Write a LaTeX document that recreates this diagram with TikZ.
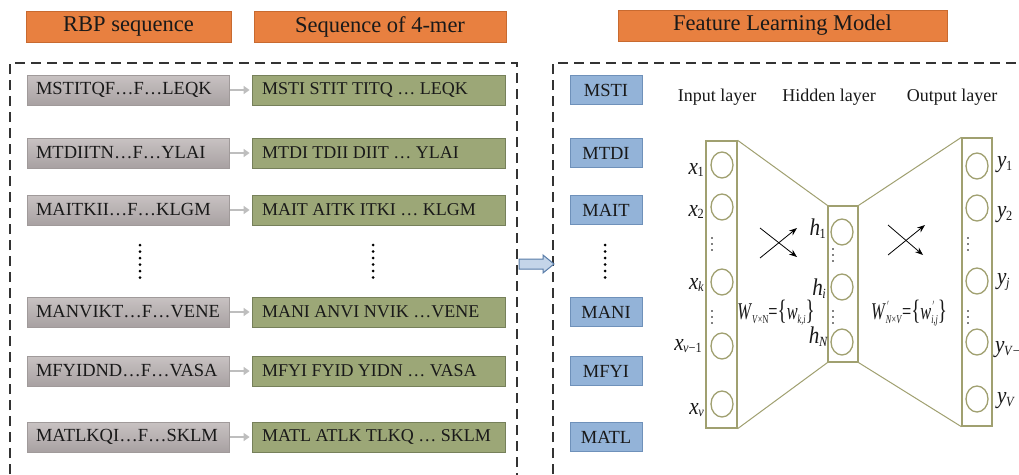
\documentclass[tikz,border=0pt]{standalone}
\usepackage{fontspec}
\setmainfont{Liberation Serif}
\usetikzlibrary{arrows.meta,shapes.geometric}
\definecolor{hdrfill}{RGB}{232,128,64}
\definecolor{hdrline}{RGB}{200,106,48}
\definecolor{greytop}{RGB}{200,194,194}
\definecolor{greybot}{RGB}{168,161,162}
\definecolor{greyline}{RGB}{160,154,154}
\definecolor{grnfill}{RGB}{156,167,119}
\definecolor{grnline}{RGB}{118,128,90}
\definecolor{bluefill}{RGB}{147,179,216}
\definecolor{blueline}{RGB}{111,145,186}
\definecolor{nncol}{RGB}{160,160,112}
\definecolor{txt}{RGB}{25,25,25}
\definecolor{sarrowcol}{RGB}{190,190,190}
\definecolor{barrowfill}{RGB}{196,213,233}
\definecolor{barrowline}{RGB}{88,124,168}
\newcommand\vl[2]{\scalebox{0.88}[1]{{\fontsize{24}{24}\selectfont\textit{#1}}\kern-0.5pt\raisebox{-0.6ex}{\fontsize{14}{14}\selectfont #2}}}
\newcommand\wsub[1]{\raisebox{-0.8ex}{\fontsize{12}{12}\selectfont #1}}
\newcommand\wsubsup[1]{\makebox[0pt][l]{\raisebox{2.2ex}{\fontsize{12}{12}\selectfont\kern2pt$'$}}\raisebox{-0.8ex}{\fontsize{12}{12}\selectfont #1}}
\newcommand\wbig[1]{{\fontsize{24}{24}\selectfont #1}}
\newcommand\wbr[1]{{\fontsize{28}{28}\selectfont #1}}
\tikzset{
  hdr/.style={draw=hdrline, fill=hdrfill, line width=0.8pt, minimum height=31, inner sep=0pt,
    text=txt, font=\fontsize{22.5}{24}\selectfont},
  gbox/.style={draw=greyline, top color=greytop, bottom color=greybot, line width=0.6pt,
    minimum height=30, inner xsep=9pt, inner ysep=0pt,
    text=txt, font=\fontsize{18.5}{20}\selectfont},
  qbox/.style={draw=grnline, fill=grnfill, line width=0.8pt,
    minimum height=30, inner xsep=10pt, inner ysep=0pt,
    text=txt, font=\fontsize{18}{20}\selectfont},
  bbox/.style={draw=blueline, fill=bluefill, line width=0.8pt, minimum width=72,
    minimum height=29, inner sep=0pt, text=txt, font=\fontsize{18.5}{20}\selectfont},
  sarrow/.style={draw=sarrowcol, line width=2pt, -{Triangle[length=6pt,width=8pt]}},
  dashbox/.style={draw=black!80, line width=1.8pt, dash pattern=on 10pt off 6pt},
  layer/.style={draw=nncol, line width=1.3pt, inner sep=0pt},
  neuron/.style={ellipse, draw=nncol, line width=1.3pt, minimum width=22, minimum height=26, inner sep=0pt},
  nnline/.style={draw=nncol, line width=1pt},
  xarrow/.style={draw=black, line width=0.8pt, -{Stealth[length=8pt,width=6pt]}},
  lyr/.style={text=txt, font=\fontsize{18}{20}\selectfont},
  lab/.style={text=txt, inner sep=0pt},
  dotc/.style={fill=black, circle, inner sep=0pt, minimum size=3pt}
}
\begin{document}
\begin{tikzpicture}[x=1pt,y=-1pt]
\useasboundingbox (0,0) rectangle (1019,474);
\clip (0,0) rectangle (1019,474);
\fill[white] (0,0) rectangle (1019,474);

% headers
\node[hdr, minimum width=205] (h1) at (128.5,26.5) {RBP sequence};
\node[hdr, minimum width=252] (h2) at (380,26.5) {Sequence of 4-mer};
\node[hdr, minimum width=329] (h3) at (782.5,25.5) {Feature Learning Model};

% dashed frames
\draw[dashbox] (10,490) -- (10,63) -- (517,63) -- (517,490);
\draw[dashbox] (553,490) -- (553,63) -- (1040,63);

% rows
\foreach \i/\y/\g/\q/\b in {
  1/90/{MSTITQF…F…LEQK}/{MSTI STIT TITQ … LEQK}/MSTI,
  2/153/{MTDIITN…F…YLAI}/{MTDI TDII DIIT … YLAI}/MTDI,
  3/210/{MAITKII…F…KLGM}/{MAIT AITK ITKI … KLGM}/MAIT,
  4/312/{MANVIKT…F…VENE}/{MANI ANVI NVIK …VENE}/MANI,
  5/371/{MFYIDND…F…VASA}/{MFYI FYID YIDN … VASA}/MFYI,
  6/437/{MATLKQI…F…SKLM}/{MATL ATLK TLKQ … SKLM}/MATL}{
  \node[gbox] (g\i) at (128,\y) {\makebox[184pt][l]{\g}};
  \node[qbox] (q\i) at (378.5,\y) {\makebox[233pt][l]{\q}};
  \node[bbox] (b\i) at (606,\y) {\b};
  \draw[sarrow] ([xshift=1pt]g\i.east) -- ([xshift=-2pt]q\i.west);
}

% vertical dots
\foreach \xx in {140,373,605}{
  \foreach \k in {0,...,5}{
    \node[dotc] at (\xx,245+6.5*\k) {};
  }
}

% block arrow
\draw[draw=barrowline, fill=barrowfill, line width=1pt, line join=miter]
  (519,259) -- (543,259) -- (543,255) -- (554,264) -- (543,273) -- (543,269) -- (519,269) -- cycle;

% layer titles
\node[lyr] (tin) at (717,97) {Input layer};
\node[lyr] (thid) at (829,97) {Hidden layer};
\node[lyr] (tout) at (952,97) {Output layer};

% layers
\node[layer, minimum width=31, minimum height=287] (inL) at (721.5,284.5) {};
\node[layer, minimum width=30, minimum height=156] (hid) at (843,284) {};
\node[layer, minimum width=30, minimum height=288] (outL) at (977,282) {};
\draw[nnline] (inL.north east) -- (hid.north west);
\draw[nnline] (hid.north east) -- (outL.north west);
\draw[nnline] (inL.south east) -- (hid.south west);
\draw[nnline] (hid.south east) -- (outL.south west);

% neurons
\foreach \n/\y in {1/165,2/207,3/282,4/346,5/404}{ \node[neuron] (x\n) at (722,\y) {}; }
\foreach \n/\y in {1/232,2/287,3/342}{ \node[neuron] (h\n) at (842,\y) {}; }
\foreach \n/\y in {1/166,2/208,3/281,4/342,5/399}{ \node[neuron] (y\n) at (977,\y) {}; }

% small dots inside layers
\foreach \xx/\ya/\yb in {712/238/311, 833/249/311, 968/238/311}{
  \foreach \k in {0,1,2}{
    \fill[black] (\xx,\ya+6*\k) circle (0.9);
    \fill[black] (\xx,\yb+6*\k) circle (0.9);
  }
}

% labels
\node[lab, anchor=east] (lx1) at (704,170) {\vl{x}{1}};
\node[lab, anchor=east] (lx2) at (704,212) {\vl{x}{2}};
\node[lab, anchor=east] (lxk) at (704,285) {\vl{x}{\textit{k}}};
\node[lab, anchor=east] (lxv1) at (702,346) {\vl{x}{\textit{v}−1}};
\node[lab, anchor=east] (lxv) at (704,410) {\vl{x}{\textit{v}}};
\node[lab, anchor=east] (lh1) at (826,229) {\vl{h}{1}};
\node[lab, anchor=east] (lhi) at (826,289) {\vl{h}{\textit{i}}};
\node[lab, anchor=east] (lhN) at (828,337) {\vl{h}{\textit{N}}};
\node[lab, anchor=west] (ly1) at (997,165) {\vl{y}{1}};
\node[lab, anchor=west] (ly2) at (997,215) {\vl{y}{2}};
\node[lab, anchor=west] (lyj) at (997,282) {\vl{y}{\textit{j}}};
\node[lab, anchor=west] (lyV1) at (995,350) {\vl{y}{\textit{V}−1}};
\node[lab, anchor=west] (lyV) at (997,401) {\vl{y}{\textit{V}}};

\node[lab] (wl) at (776,313)
  {\scalebox{0.68}[1]{\wbig{\textit{W}}\wsub{\textit{V}×N}\wbig{=}\wbr{\{}\wbig{\textit{w}}\wsub{\textit{k,i}}\wbr{\}}}};
\node[lab] (wr) at (909,313)
  {\scalebox{0.68}[1]{\wbig{\textit{W}}\wsubsup{\textit{N}×\textit{V}}\wbig{=}\wbr{\{}\wbig{\textit{w}}\wsubsup{\textit{i,j}}\wbr{\}}}};

% crossed arrows
\coordinate (a1s) at (760,258); \coordinate (a1e) at (797,228);
\coordinate (a2s) at (760,228); \coordinate (a2e) at (797,257);
\coordinate (a3s) at (888,255); \coordinate (a3e) at (925,225);
\coordinate (a4s) at (888,225); \coordinate (a4e) at (923,255);
\draw[xarrow] (a1s) -- (a1e);
\draw[xarrow] (a2s) -- (a2e);
\draw[xarrow] (a3s) -- (a3e);
\draw[xarrow] (a4s) -- (a4e);
\end{tikzpicture}
\end{document}
